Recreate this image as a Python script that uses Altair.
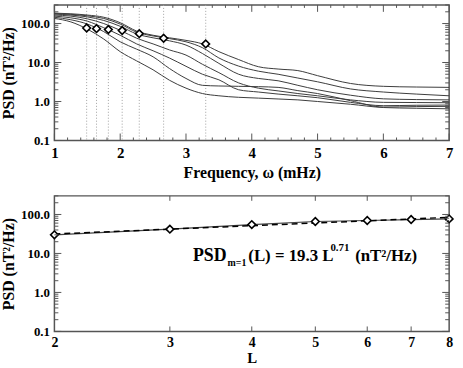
import altair as alt
import pandas as pd

# ---- spectra: PSD (nT^2/Hz) versus frequency (mHz), one curve per L shell ----
FREQ = [1.0, 1.25, 1.5, 1.75, 2.0, 2.25, 2.5, 2.75, 3.0, 3.25, 3.5, 3.8,
        4.1, 4.4, 4.7, 5.0, 5.5, 6.0, 6.5, 7.0]
PSD_L2 = [185, 178, 165, 145, 105, 64, 50, 43, 37, 30, 19, 11.9,
          7.8, 6.8, 6.2, 4.6, 2.9, 2.45, 2.35, 2.3]
PSD_L3 = [180, 172, 158, 135, 97, 60, 48, 41, 34, 24, 13.1, 8.1,
          6.0, 5.0, 4.0, 3.2, 2.1, 1.75, 1.55, 1.4]
PSD_L4 = [175, 165, 148, 120, 85, 54, 43, 36, 28, 17, 9.5, 5.0,
          3.9, 3.4, 2.6, 2.0, 1.45, 1.17, 1.12, 1.1]
PSD_L5 = [165, 155, 132, 100, 67, 42, 30, 21, 15.5, 9.0, 5.5, 3.0,
          2.2, 1.87, 1.6, 1.4, 1.1, 0.95, 0.94, 0.93]
PSD_L6 = [155, 140, 115, 78, 50, 30, 20, 13, 8.0, 5.0, 3.6, 2.0,
          1.75, 1.55, 1.4, 1.25, 0.95, 0.78, 0.8, 0.81]
PSD_L7 = [145, 125, 97, 62, 34, 22, 14, 7.0, 3.9, 2.6, 2.5, 2.45,
          2.4, 2.3, 1.9, 1.6, 1.05, 0.72, 0.74, 0.75]
PSD_L8 = [135, 110, 72, 40, 19, 11, 6.5, 3.5, 2.2, 1.6, 1.4, 1.28,
          1.22, 1.16, 1.1, 1.0, 0.85, 0.7, 0.67, 0.65]

# ---- m = 1 spectral peak for each L shell ----
L_SHELLS = [2, 3, 4, 5, 6, 7, 8]
PEAK_FREQ = [3.30, 2.66, 2.29, 2.03, 1.82, 1.64, 1.49]
PEAK_PSD = [30, 42, 55, 66, 70, 74, 77]

# power-law fit PSD = A * L^B
FIT_A = 19.3
FIT_B = 0.71

# ---- tick positions ----
Y_MAJOR = [0.1, 1, 10, 100]
Y_MINOR = [m * 10.0 ** e for e in (-1, 0, 1, 2) for m in range(2, 10) if m * 10.0 ** e <= 300]
F_MAJOR = [1, 2, 3, 4, 5, 6, 7]
F_MINOR = [round(1 + 0.2 * i, 1) for i in range(31) if (i % 5) != 0]
L_TICKS = [2, 3, 4, 5, 6, 7, 8]

W, H = 399, 137
FONT = "Liberation Serif"
FRAME = "#555555"
CURVE = "#3c3c3c"

spectra = pd.DataFrame(
    [
        {"L": L, "freq": f, "psd": p}
        for L, series in zip(L_SHELLS, [PSD_L2, PSD_L3, PSD_L4, PSD_L5, PSD_L6, PSD_L7, PSD_L8])
        for f, p in zip(FREQ, series)
    ]
)
peaks = pd.DataFrame({"L": L_SHELLS, "freq": PEAK_FREQ, "psd": PEAK_PSD})
fit = pd.DataFrame({"L": [L_SHELLS[0], L_SHELLS[-1]]})
fit["psd"] = FIT_A * fit["L"] ** FIT_B

y_scale = alt.Scale(type="log", domain=[0.1, 300], nice=False)
f_scale = alt.Scale(domain=[1, 7], nice=False, zero=False)
l_scale = alt.Scale(type="log", domain=[2, 8], nice=False)

common_axis = dict(
    ticks=False, tickSize=0, domain=False, grid=False,
    labelFont=FONT, labelFontWeight="bold", labelColor="black",
    titleFont=FONT, titleFontWeight="bold", titleColor="black",
    labelFlush=False, labelOverlap=False,
)
y_axis = alt.Axis(values=Y_MAJOR, format=".1f", title="PSD (nT²/Hz)",
                  labelFontSize=13, labelPadding=5, titleFontSize=16, titlePadding=4,
                  **common_axis)
f_axis = alt.Axis(values=F_MAJOR, format="d", title="Frequency, ω (mHz)",
                  labelFontSize=15, labelPadding=5, titleFontSize=16, titlePadding=4,
                  **common_axis)
l_axis = alt.Axis(values=L_TICKS, format="d", title="L",
                  labelFontSize=14, labelPadding=4, titleFontSize=15, titlePadding=1,
                  **common_axis)


def y_ticks(values, length):
    """Inward-pointing tick marks on the left and right frame edges."""
    df = pd.DataFrame({"v": values})
    left = alt.Chart(df).mark_rule(color=FRAME, strokeWidth=1).encode(
        y=alt.Y("v:Q", scale=y_scale, axis=y_axis),
        x=alt.value(0), x2=alt.value(length),
    )
    right = alt.Chart(df).mark_rule(color=FRAME, strokeWidth=1).encode(
        y=alt.Y("v:Q", scale=y_scale, axis=y_axis),
        x=alt.value(W), x2=alt.value(W - length),
    )
    return [left, right]


def x_ticks(values, length, x_scale, x_axis):
    """Inward-pointing tick marks on the bottom and top frame edges."""
    df = pd.DataFrame({"v": values})
    bottom = alt.Chart(df).mark_rule(color=FRAME, strokeWidth=1).encode(
        x=alt.X("v:Q", scale=x_scale, axis=x_axis),
        y=alt.value(H), y2=alt.value(H - length),
    )
    top = alt.Chart(df).mark_rule(color=FRAME, strokeWidth=1).encode(
        x=alt.X("v:Q", scale=x_scale, axis=x_axis),
        y=alt.value(0), y2=alt.value(length),
    )
    return [bottom, top]


# ---------------- upper panel: spectra ----------------
peak_lines = alt.Chart(peaks).mark_rule(color="#a0a0a0", strokeDash=[1, 2], strokeWidth=1).encode(
    x=alt.X("freq:Q", scale=f_scale, axis=f_axis),
    y=alt.value(0), y2=alt.value(H),
)
curves = alt.Chart(spectra).mark_line(color=CURVE, strokeWidth=1, interpolate="monotone").encode(
    x=alt.X("freq:Q", scale=f_scale, axis=f_axis),
    y=alt.Y("psd:Q", scale=y_scale, axis=y_axis),
    detail="L:N",
)
peak_marks = alt.Chart(peaks).mark_point(
    shape="diamond", size=60, filled=True, fill="white", stroke="black", strokeWidth=1.6, opacity=1
).encode(
    x=alt.X("freq:Q", scale=f_scale, axis=f_axis),
    y=alt.Y("psd:Q", scale=y_scale, axis=y_axis),
)

top = alt.layer(
    peak_lines, curves, peak_marks,
    *y_ticks(Y_MAJOR, 7),
    *y_ticks(Y_MINOR, 4),
    *x_ticks(F_MAJOR, 7, f_scale, f_axis),
    *x_ticks(F_MINOR, 3, f_scale, f_axis),
).properties(width=W, height=H)

# ---------------- lower panel: peak PSD versus L ----------------
peak_line = alt.Chart(peaks).mark_line(color="#444444", strokeWidth=1.2).encode(
    x=alt.X("L:Q", scale=l_scale, axis=l_axis),
    y=alt.Y("psd:Q", scale=y_scale, axis=y_axis),
)
fit_line = alt.Chart(fit).mark_line(color="black", strokeWidth=1.5, strokeDash=[6, 4]).encode(
    x=alt.X("L:Q", scale=l_scale, axis=l_axis),
    y=alt.Y("psd:Q", scale=y_scale, axis=y_axis),
)
l_marks = alt.Chart(peaks).mark_point(
    shape="diamond", size=60, filled=True, fill="white", stroke="black", strokeWidth=1.6, opacity=1
).encode(
    x=alt.X("L:Q", scale=l_scale, axis=l_axis),
    y=alt.Y("psd:Q", scale=y_scale, axis=y_axis),
)

one = alt.InlineData(values=[{}])


def label(text, x, y, size):
    return alt.Chart(one).mark_text(
        text=text, font=FONT, fontWeight="bold", fontSize=size, color="black",
        align="left", baseline="alphabetic",
    ).encode(x=alt.value(x), y=alt.value(y))


equation = [
    label("PSD", 140, 66, 18),
    label("m=1", 175, 71, 10),
    label("(L) = 19.3 L", 196, 66, 17),
    label("0.71", 279, 56, 11),
    label("(nT²/Hz)", 304, 66, 17),
]

bottom = alt.layer(
    peak_line, fit_line, l_marks,
    *y_ticks(Y_MAJOR, 7),
    *y_ticks(Y_MINOR, 4),
    *x_ticks(L_TICKS[1:-1], 5, l_scale, l_axis),
    *equation,
).properties(width=W, height=H)

chart = alt.vconcat(top, bottom, spacing=13).properties(
    padding={"left": 0, "top": 1, "right": 6, "bottom": 0},
    background="white",
).configure_view(stroke=FRAME, strokeWidth=1.5)

chart.save("out.html", embed_options={"renderer": "svg", "actions": False})
